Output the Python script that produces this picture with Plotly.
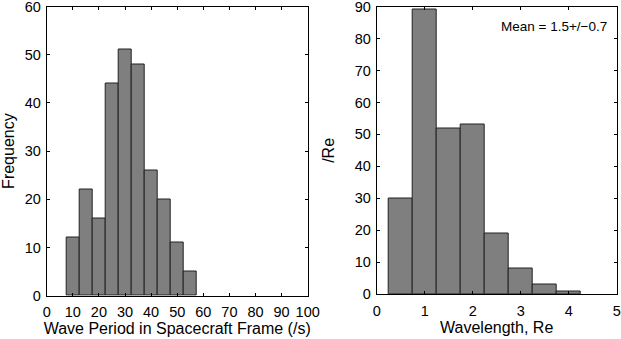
import plotly.graph_objects as go

# Left panel data
period_centers = [10, 15, 20, 25, 30, 35, 40, 45, 50, 55]
period_counts = [12, 22, 16, 44, 51, 48, 26, 20, 11, 5]
period_ticks = [0, 10, 20, 30, 40, 50, 60, 70, 80, 90, 100]

# Right panel data
wl_centers = [0.5, 1.0, 1.5, 2.0, 2.5, 3.0, 3.5, 4.0]
wl_counts = [30, 89, 52, 53, 19, 8, 3, 1]
wl_ticks = [0, 1, 2, 3, 4, 5]

W, H = 621, 339
FONT = "Liberation Sans, Arial, Helvetica, sans-serif"
bar_color = "#7f7f7f"

fig = go.Figure()
fig.add_trace(go.Bar(x=period_centers, y=period_counts, width=5,
                     marker=dict(color=bar_color, line=dict(color="#222", width=1)),
                     xaxis="x", yaxis="y", showlegend=False))
fig.add_trace(go.Bar(x=wl_centers, y=wl_counts, width=0.5,
                     marker=dict(color=bar_color, line=dict(color="#222", width=1)),
                     xaxis="x2", yaxis="y2", showlegend=False))

ax_common = dict(showline=True, linecolor="black", linewidth=1, mirror="ticks",
                 ticks="inside", ticklen=3, tickcolor="black", showgrid=False,
                 zeroline=False, ticklabeloverflow="allow", automargin=False,
                 tickfont=dict(size=14.5, color="black", family=FONT))

fig.update_layout(
    width=W, height=H, margin=dict(l=0, r=0, t=0, b=0, pad=0),
    paper_bgcolor="white", plot_bgcolor="white", bargap=0,
    font=dict(family=FONT, color="black"),
    xaxis=dict(domain=[46.7 / W, 307.7 / W], range=[0, 100], tickvals=period_ticks,
               ticklabelstandoff=3,
               title=dict(text="Wave Period in Spacecraft Frame (/s)", font=dict(size=16), standoff=2),
               anchor="y", **ax_common),
    yaxis=dict(domain=[1 - 295.7 / H, 1 - 6.5 / H], range=[0, 60], dtick=10,
               ticklabelstandoff=2,
               title=dict(text="Frequency", font=dict(size=16), standoff=13),
               anchor="x", **ax_common),
    xaxis2=dict(domain=[376.7 / W, 616.7 / W], range=[0, 5], tickvals=wl_ticks,
                ticklabelstandoff=3,
                title=dict(text="Wavelength, Re", font=dict(size=16), standoff=2),
                anchor="y2", **ax_common),
    yaxis2=dict(domain=[1 - 294.3 / H, 1 - 6.5 / H], range=[0, 90], dtick=10,
                ticklabelstandoff=2,
                title=dict(text="/Re", font=dict(size=16), standoff=16),
                anchor="x2", **ax_common),
    annotations=[dict(text="Mean = 1.5+/\u22120.7", xref="x2 domain", yref="y2 domain",
                      x=0.968, y=0.931, xanchor="right", yanchor="middle", showarrow=False,
                      font=dict(size=13.5, color="black", family=FONT))],
)

fig.write_html("out.html", config={"displayModeBar": False},
               post_script="document.body.style.margin='0';document.body.style.overflow='hidden';")
